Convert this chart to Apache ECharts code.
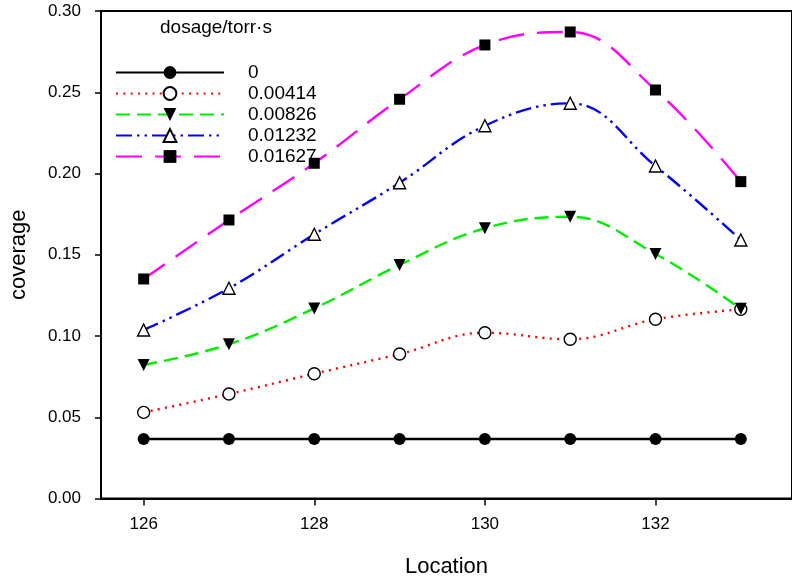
<!DOCTYPE html>
<html>
<head>
<meta charset="utf-8">
<script src="https://cdn.jsdelivr.net/npm/echarts@6/dist/echarts.min.js"></script>
<style>html,body{margin:0;padding:0;background:#fff}#c{width:792px;height:583px}</style>
</head>
<body>
<div id="c"></div>
<script>
const locations = [126, 127, 128, 129, 130, 131, 132, 133];
const dosages = ['0', '0.00414', '0.00826', '0.01232', '0.01627'];
const cov0 = [0.0366, 0.0366, 0.0366, 0.0366, 0.0366, 0.0366, 0.0366, 0.0366];
const cov1 = [0.0530, 0.0643, 0.0768, 0.0889, 0.1020, 0.0980, 0.1103, 0.1164];
const cov2 = [0.0822, 0.0949, 0.1170, 0.1437, 0.1663, 0.1734, 0.1505, 0.1168];
const cov3 = [0.1037, 0.1294, 0.1626, 0.1943, 0.2294, 0.2432, 0.2046, 0.1591];
const cov4 = [0.1351, 0.1714, 0.2063, 0.2457, 0.2791, 0.2871, 0.2514, 0.1950];
const xTicks = [126, 128, 130, 132];
const yTicks = [0, 0.05, 0.10, 0.15, 0.20, 0.25, 0.30];

const FONT = 'Liberation Sans, Arial, sans-serif';
const allCov = [cov0, cov1, cov2, cov3, cov4];
const styles = [
  {color: '#000000', type: 'solid', symbol: 'circle', size: 12, fill: '#000', rot: 0},
  {color: '#ff0000', type: [2, 5.3], symbol: 'circle', size: 12, fill: '#fff', rot: 0},
  {color: '#00ee00', type: [14, 7], symbol: 'triangle', size: 12, fill: '#000', rot: 180},
  {color: '#0000ff', type: [16, 5, 2.5, 5, 2.5, 5], symbol: 'triangle', size: 12, fill: '#fff', rot: 0},
  {color: '#ff00ff', type: [26, 13], symbol: 'rect', size: 11, fill: '#000', rot: 0}
];

const series = dosages.map((name, i) => ({
  name: name,
  type: 'line',
  smooth: 0.4,
  data: locations.map((x, j) => [x, allCov[i][j]]),
  symbol: styles[i].symbol,
  symbolSize: styles[i].size,
  symbolRotate: styles[i].rot,
  showAllSymbol: true,
  lineStyle: {color: styles[i].color, width: 2.4, type: styles[i].type, cap: 'butt'},
  itemStyle: {color: styles[i].fill, borderColor: '#000', borderWidth: styles[i].fill === '#fff' ? 1.4 : 0},
  emphasis: {disabled: true},
  z: 2 + i
}));

const chart = echarts.init(document.getElementById('c'), null, {renderer: 'canvas'});
chart.setOption({
  animation: false,
  backgroundColor: '#fff',
  title: {
    text: 'dosage/torr·s',
    left: 155, top: 13,
    textStyle: {fontFamily: FONT, fontSize: 19, fontWeight: 'normal', color: '#000'}
  },
  legend: {
    orient: 'vertical',
    left: 110, top: 58,
    itemWidth: 108, itemHeight: 16, itemGap: 2,
    data: dosages,
    textStyle: {fontFamily: FONT, fontSize: 19, lineHeight: 16, color: '#000', padding: [0, 0, 0, 19]}
  },
  grid: {
    left: 101, top: 11, bottom: 84.5, right: -12,
    show: true, borderColor: '#000', borderWidth: 2, backgroundColor: 'transparent',
    containLabel: false
  },
  xAxis: {
    type: 'value',
    min: 125.5, max: 133.6,
    name: 'Location', nameLocation: 'middle', nameGap: 57,
    nameTextStyle: {fontFamily: FONT, fontSize: 22, color: '#000'},
    axisLine: {show: true, lineStyle: {color: '#000', width: 2}},
    axisTick: {show: true, length: 7, lineStyle: {color: '#000', width: 1.5}, customValues: xTicks},
    axisLabel: {fontFamily: FONT, fontSize: 17, color: '#000', margin: 17, customValues: xTicks},
    splitLine: {show: false}
  },
  yAxis: {
    type: 'value',
    min: 0, max: 0.30, interval: 0.05,
    name: 'coverage', nameLocation: 'middle', nameGap: 71,
    nameTextStyle: {fontFamily: FONT, fontSize: 22, color: '#000'},
    axisLine: {show: true, lineStyle: {color: '#000', width: 2}},
    axisTick: {show: true, length: 6, lineStyle: {color: '#000', width: 1.5}, customValues: yTicks},
    axisLabel: {fontFamily: FONT, fontSize: 17, color: '#000', margin: 20, customValues: yTicks,
      formatter: v => v.toFixed(2)},
    splitLine: {show: false}
  },
  series: series
});
</script>
</body>
</html>
